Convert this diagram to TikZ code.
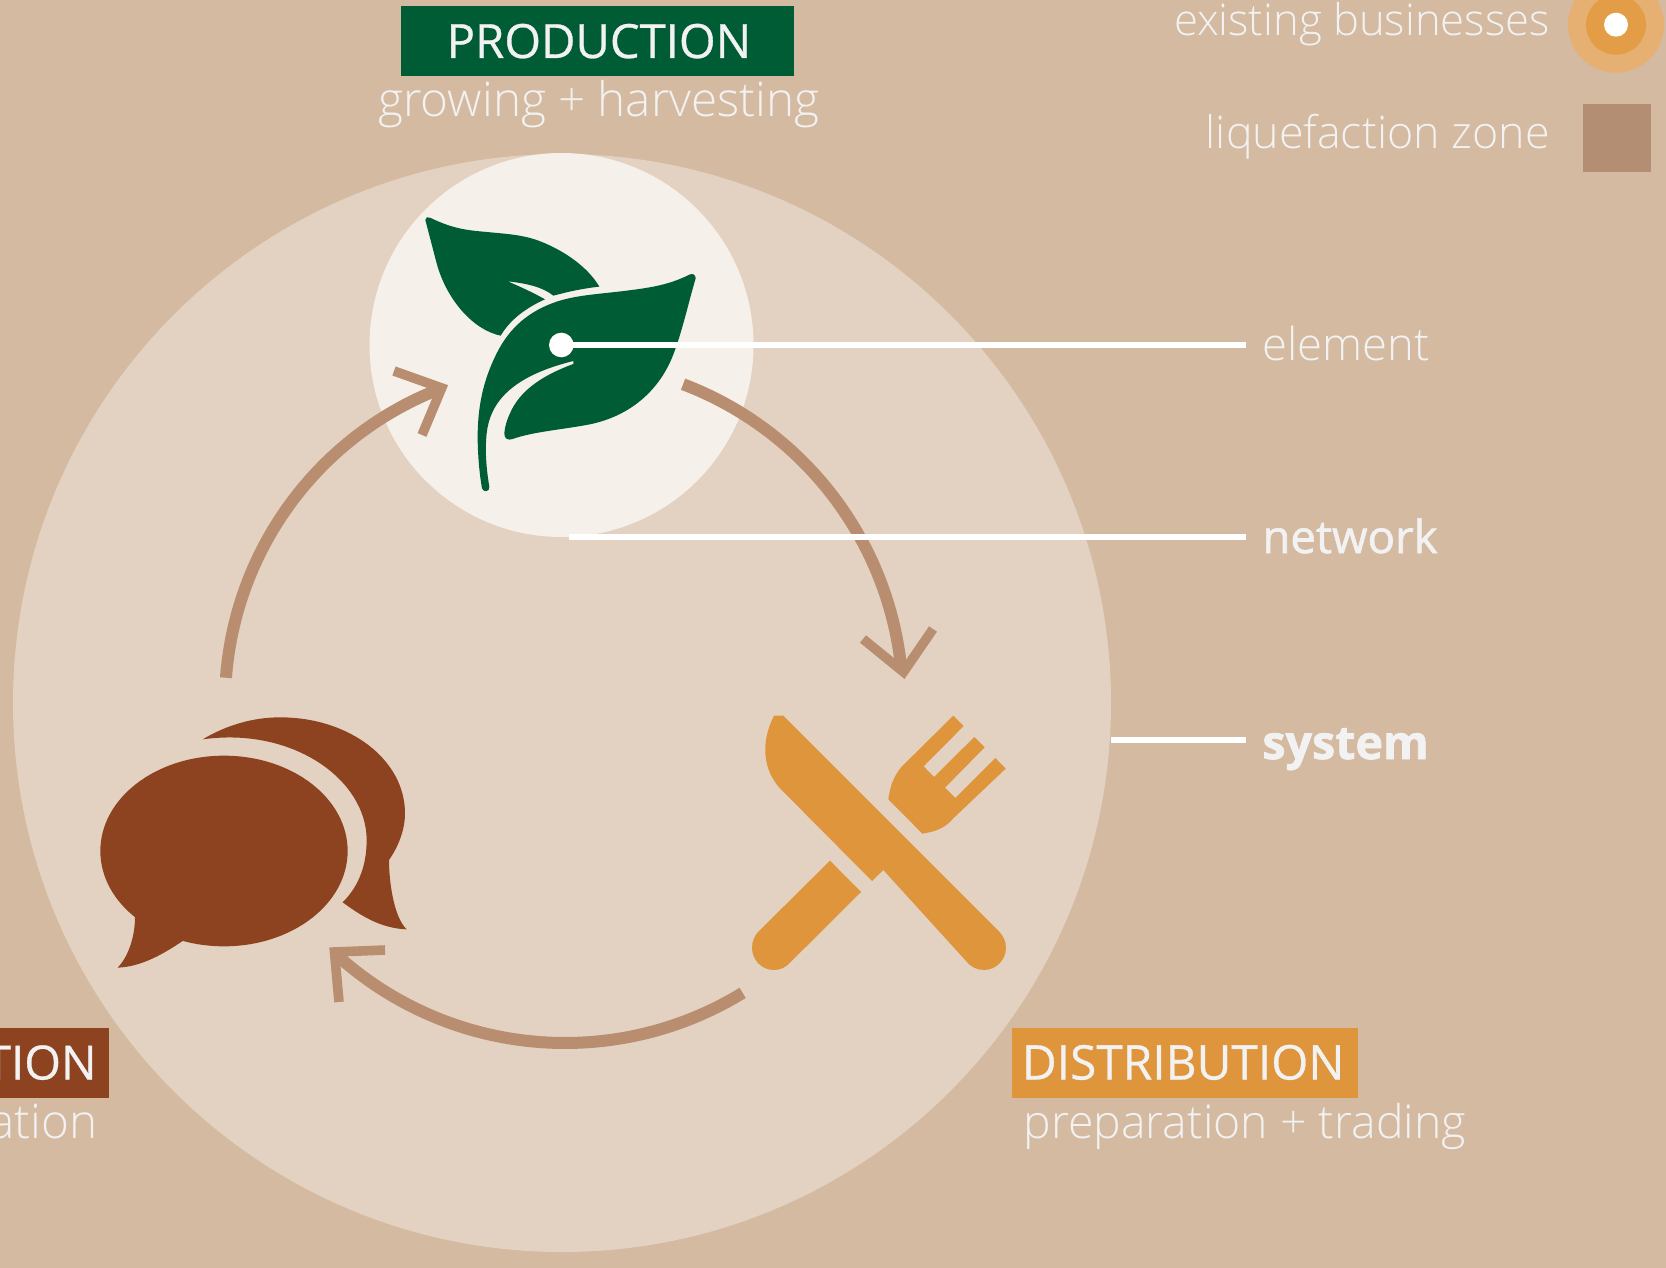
\documentclass[tikz,border=0pt]{standalone}
\usepackage{fontspec}
\setmainfont{Open Sans}
\newfontfamily\lightf{Open Sans Light}
\newfontfamily\medf[FakeBold=0.6]{Open Sans}
\newfontfamily\netf[FakeBold=1.4]{Open Sans}
\newfontfamily\heavyf[BoldFont={Open Sans Bold},FakeBold=1.5]{Open Sans Bold}
\definecolor{bg}{HTML}{D4BAA1}
\definecolor{bigc}{HTML}{E3D2C2}
\definecolor{smallc}{HTML}{F5F0EA}
\definecolor{green}{HTML}{005C35}
\definecolor{orange}{HTML}{DE953B}
\definecolor{brown}{HTML}{8D431F}
\definecolor{arrowc}{HTML}{B98E70}
\definecolor{txt}{HTML}{F2F2F2}
\definecolor{legouter}{HTML}{E5B071}
\definecolor{legmid}{HTML}{E39D47}
\definecolor{legsq}{HTML}{B38E72}
\tikzset{
 x=0.5pt,y=-0.5pt,
 lt/.style={inner sep=0pt,text=txt,font=\lightf\fontsize{#1}{24}\selectfont},
 lt/.default=23.8,
 boxlabel/.style={inner sep=0pt,text=txt,font=\medf\fontsize{#1}{24}\selectfont},
 boxlabel/.default=23.6,
 ray/.style={draw=white,line width=2.7pt},
 cyc/.style={draw=arrowc,line width=6pt},
 head/.style={draw=arrowc,line width=4.8pt,miter limit=10},
 zoomA/.style={shift={(360,140)},scale=1/3},
 zoomB/.style={shift={(720,690)},scale=1/3},
 zoomC/.style={shift={(80,690)},scale=1/3},
}
\begin{document}
\begin{tikzpicture}
\useasboundingbox (0,0) rectangle (1666,1268);
\fill[bg] (0,0) rectangle (1666,1268);
\coordinate (bigc) at (562,703);
\fill[bigc] (bigc) circle (549);
\fill[smallc] (561.5,345) circle (192);
% leaves
\begin{scope}[zoomA]
\fill[green] (196,240) .. controls (196,232) and (203,229) .. (210,233)
 .. controls (270,262) and (310,270) .. (370,275)
 .. controls (430,281) and (480,283) .. (530,300)
 .. controls (600,325) and (680,375) .. (718,440)
 .. controls (670,445) and (625,455) .. (580,467)
 .. controls (550,442) and (500,430) .. (443,424)
 .. controls (480,440) and (520,458) .. (555,478)
 .. controls (495,505) and (450,540) .. (422,587)
 .. controls (340,570) and (260,480) .. (230,370)
 -- cycle;
\fill[green] (1007,415) .. controls (1007,404) and (998,399) .. (988,404)
 .. controls (930,433) and (880,442) .. (800,452)
 .. controls (720,462) and (650,465) .. (590,485)
 .. controls (510,512) and (450,560) .. (410,640)
 .. controls (370,720) and (352,800) .. (353,900)
 .. controls (354,950) and (358,1000) .. (366,1045)
 .. controls (370,1058) and (390,1056) .. (388,1040)
 .. controls (378,980) and (375,930) .. (380,880)
 .. controls (390,790) and (450,710) .. (640,663)
 -- (640,672)
 .. controls (550,705) and (480,750) .. (450,820)
 .. controls (440,842) and (434,862) .. (433,880)
 .. controls (432,897) and (445,902) .. (458,897)
 .. controls (520,875) and (600,870) .. (690,853)
 .. controls (800,830) and (900,760) .. (945,630)
 .. controls (970,560) and (985,490) .. (1007,415)
 -- cycle;
\end{scope}
% knife and fork
\begin{scope}[zoomB]
\fill[orange] (162,77) -- (190,77) -- (835,722)
 .. controls (850,737) and (858,755) .. (858,773)
 .. controls (858,810) and (828,840) .. (792,840)
 .. controls (770,840) and (752,830) .. (740,815)
 -- (490,540) -- (456,573) -- (180,295)
 .. controls (130,240) and (120,160) .. (162,77) -- cycle;
\fill[orange] (330,512) -- (423,606) -- (210,818)
 .. controls (198,832) and (180,840) .. (162,840)
 .. controls (125,840) and (96,810) .. (96,773)
 .. controls (96,755) and (103,738) .. (115,725) -- cycle;
\fill[orange] (700,77) -- (731,108) -- (611,229) -- (642,261) -- (763,141)
 -- (794,172) -- (675,293) -- (706,324) -- (826,204) -- (857,236) -- (700,385)
 .. controls (670,420) and (640,425) .. (607,431) -- (505,328)
 .. controls (510,290) and (520,260) .. (545,230) -- cycle;
\end{scope}
% speech bubbles
\begin{scope}[zoomC]
\fill[brown] (432,483) ellipse [x radius=371,y radius=286];
\fill[brown] (165,670) -- (165,682) .. controls (165,740) and (145,800) .. (113,833)
 .. controls (190,830) and (260,785) .. (308,753) -- (320,700) -- cycle;
\fill[brown] (368,148) .. controls (440,105) and (520,82) .. (600,82)
 .. controls (810,82) and (975,210) .. (975,370)
 .. controls (975,420) and (955,470) .. (927,510)
 .. controls (927,570) and (940,680) .. (980,718)
 .. controls (900,715) and (840,675) .. (788,637)
 .. controls (840,585) and (860,520) .. (860,450)
 .. controls (860,270) and (640,110) .. (368,148) -- cycle;
\end{scope}
% cycle arrows
\coordinate (arcc) at (565,703);
\draw[cyc] (bigc) ++(-69.2:341) arc[start angle=-69.2,end angle=-5.4,radius=341];
\draw[cyc] (arcc) ++(58.5:340) arc[start angle=58.5,end angle=132,radius=340];
\draw[cyc] (bigc) ++(184.3:337) arc[start angle=184.3,end angle=248.4,radius=337];
\draw[head] (394,371) -- (441.7,388) -- (422,435);
\draw[head] (863,639) -- (903.5,672) -- (933,629);
\draw[head] (385,950) -- (334.5,952) -- (339,1002);
% leaders
\node[circle,fill=white,minimum size=12.3pt,inner sep=0pt] (elemdot) at (561.3,345) {};
\coordinate (elemend) at (1246,345);
\coordinate (netstart) at (569,537);
\coordinate (netend) at (1246,537);
\coordinate (sysstart) at (1111,740);
\coordinate (sysend) at (1246,740);
\draw[ray] (elemdot.center) -- (elemend);
\draw[ray] (netstart) -- (netend);
\draw[ray] (sysstart) -- (sysend);
\node[lt=22.7,anchor=base west] (elem) at (1262,360) {element};
\node[boxlabel,anchor=base west,font=\netf\fontsize{22.8}{24}\selectfont] (net) at (1262,553) {network};
\node[boxlabel,anchor=base west,font=\heavyf\fontsize{23.3}{24}\selectfont] (sys) at (1262,759) {system};
% label boxes
\fill[green] (401,6) rectangle (794,76);
\node[boxlabel,anchor=base] (prod) at (599,58) {PRODUCTION};
\node[lt,anchor=base] (prodsub) at (599,117) {growing + harvesting};
\fill[orange] (1011.5,1028) rectangle (1358,1098);
\node[boxlabel=23.9,anchor=base west] (dist) at (1021.5,1079.5) {DISTRIBUTION};
\node[lt=23.2,anchor=base west] (distsub) at (1023,1138) {preparation + trading};
\fill[brown] (0,1028) rectangle (109,1098);
\node[boxlabel,anchor=base east] (cons) at (97,1079.5) {TION};
\node[lt,anchor=base east] (conssub) at (97.5,1138) {ation};
% legend
\node[lt=21.8,anchor=base east] (legA) at (1550,36) {existing businesses};
\node[lt=22.4,anchor=base east] (legB) at (1550,148.5) {liquefaction zone};
\fill[legouter] (1616,24.7) circle (48);
\fill[legmid] (1616,24.7) circle (30);
\fill[white] (1616,24.7) circle (12);
\fill[legsq] (1583,104) rectangle (1651,172);
\end{tikzpicture}
\end{document}
